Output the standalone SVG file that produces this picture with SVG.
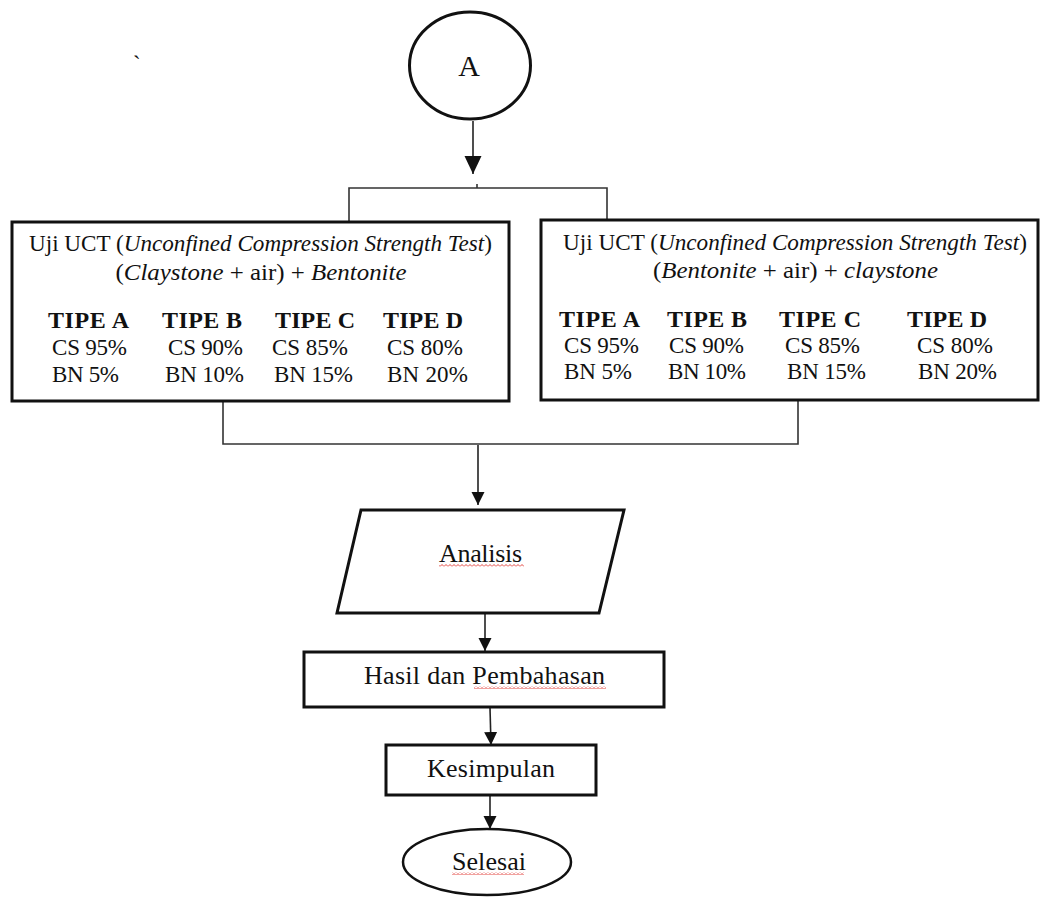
<svg xmlns="http://www.w3.org/2000/svg" width="1041" height="898" viewBox="0 0 1041 898" font-family="Liberation Serif, Times New Roman, serif">
<style>
text{fill:#111;}
.t23{font-size:23px;}
.t24{font-size:24px;}
.t26{font-size:26px;}
.b{font-size:24px;font-weight:bold;}
.i{font-style:italic;}
.shape{fill:#fff;stroke:#111;stroke-width:3;}
.con{fill:none;stroke:#333;stroke-width:1.6;}
.arr{fill:none;stroke:#222;stroke-width:1.6;}
</style>
<defs>
<marker id="big" markerUnits="userSpaceOnUse" markerWidth="18" markerHeight="18" refX="18" refY="8.5" orient="auto"><path d="M0,0 L18,8.5 L0,17 z" fill="#111"/></marker>
<marker id="sm" markerUnits="userSpaceOnUse" markerWidth="14" markerHeight="14" refX="13" refY="6.5" orient="auto"><path d="M0,0 L13,6.5 L0,13 z" fill="#111"/></marker>
<pattern id="wave" width="4" height="3" patternUnits="userSpaceOnUse"><path d="M0,2.5 L2,0.5 L4,2.5" fill="none" stroke="#e0302a" stroke-width="0.9"/></pattern>
</defs>
<rect width="1041" height="898" fill="#fff"/>
<text x="133" y="72" class="t23">`</text>
<g id="connectors">
<line class="arr" x1="473" y1="121" x2="473" y2="174" marker-end="url(#big)"/>
<line class="con" x1="477" y1="184" x2="477" y2="188"/>
<polyline class="con" points="349,222 349,188 607,188 607,220"/>
<polyline class="con" points="223,402 223,444 798,444 798,401"/>
<line class="arr" x1="478" y1="445" x2="478" y2="505" marker-end="url(#sm)"/>
<line class="arr" x1="485" y1="614" x2="485" y2="651" marker-end="url(#sm)"/>
<line class="arr" x1="490" y1="708" x2="491" y2="745" marker-end="url(#sm)"/>
<line class="arr" x1="490" y1="795" x2="490" y2="829" marker-end="url(#sm)"/>
</g>
<g id="nodeA">
<ellipse class="shape" cx="470" cy="65.5" rx="60.5" ry="53.5"/>
<text x="469" y="76" font-size="30" text-anchor="middle">A</text>
</g>
<g id="boxLeft">
<rect class="shape" x="12" y="222" width="497" height="179"/>
<text x="260.5" y="251" class="t23" text-anchor="middle" textLength="463" lengthAdjust="spacingAndGlyphs">Uji UCT (<tspan class="i">Unconfined Compression Strength Test</tspan>)</text>
<text x="261" y="280" class="t24" text-anchor="middle" textLength="291" lengthAdjust="spacingAndGlyphs">(<tspan class="i">Claystone</tspan> + air) + <tspan class="i">Bentonite</tspan></text>
<text x="48" y="328" class="b" textLength="81">TIPE A</text>
<text x="162" y="328" class="b" textLength="80">TIPE B</text>
<text x="275" y="328" class="b" textLength="80">TIPE C</text>
<text x="383" y="328" class="b" textLength="80">TIPE D</text>
<text x="52" y="355" class="t23" textLength="75">CS 95%</text>
<text x="168" y="355" class="t23" textLength="75">CS 90%</text>
<text x="272" y="355" class="t23" textLength="76">CS 85%</text>
<text x="387" y="355" class="t23" textLength="76">CS 80%</text>
<text x="52" y="382" class="t23" textLength="67">BN 5%</text>
<text x="165" y="382" class="t23" textLength="79">BN 10%</text>
<text x="274" y="382" class="t23" textLength="79">BN 15%</text>
<text x="387" y="382" class="t23" textLength="81">BN 20%</text>
</g>
<g id="boxRight">
<rect class="shape" x="541" y="220" width="497" height="180"/>
<text x="795" y="250" class="t23" text-anchor="middle" textLength="464" lengthAdjust="spacingAndGlyphs">Uji UCT (<tspan class="i">Unconfined Compression Strength Test</tspan>)</text>
<text x="795.5" y="278" class="t24" text-anchor="middle" textLength="285" lengthAdjust="spacingAndGlyphs">(<tspan class="i">Bentonite</tspan> + air) + <tspan class="i">claystone</tspan></text>
<text x="559" y="327" class="b" textLength="81">TIPE A</text>
<text x="667" y="327" class="b" textLength="80">TIPE B</text>
<text x="779" y="327" class="b" textLength="82">TIPE C</text>
<text x="907" y="327" class="b" textLength="80">TIPE D</text>
<text x="564" y="353" class="t23" textLength="75">CS 95%</text>
<text x="669" y="353" class="t23" textLength="75">CS 90%</text>
<text x="785" y="353" class="t23" textLength="75">CS 85%</text>
<text x="917" y="353" class="t23" textLength="76">CS 80%</text>
<text x="564" y="379" class="t23" textLength="68">BN 5%</text>
<text x="668" y="379" class="t23" textLength="78">BN 10%</text>
<text x="787" y="379" class="t23" textLength="79">BN 15%</text>
<text x="918" y="379" class="t23" textLength="79">BN 20%</text>
</g>
<g id="analisis">
<polygon class="shape" points="361,510 624,510 599,613 337,613"/>
<text x="439" y="562" class="t26" textLength="83">Analisis</text>
<rect x="439" y="564" width="85" height="3" fill="url(#wave)"/>
</g>
<g id="hasil">
<rect class="shape" x="304" y="652" width="360" height="55"/>
<text x="364" y="684" class="t26" textLength="241">Hasil dan Pembahasan</text>
<rect x="474" y="686" width="132" height="3" fill="url(#wave)"/>
</g>
<g id="kesimpulan">
<rect class="shape" x="386" y="745" width="210" height="50"/>
<text x="427" y="777" class="t26" textLength="128">Kesimpulan</text>
</g>
<g id="selesai">
<ellipse cx="487" cy="862" rx="84" ry="33" fill="#fff" stroke="#111" stroke-width="2.5"/>
<text x="452" y="870" class="t26" textLength="74">Selesai</text>
<rect x="452" y="872" width="72" height="3" fill="url(#wave)"/>
</g>
</svg>
